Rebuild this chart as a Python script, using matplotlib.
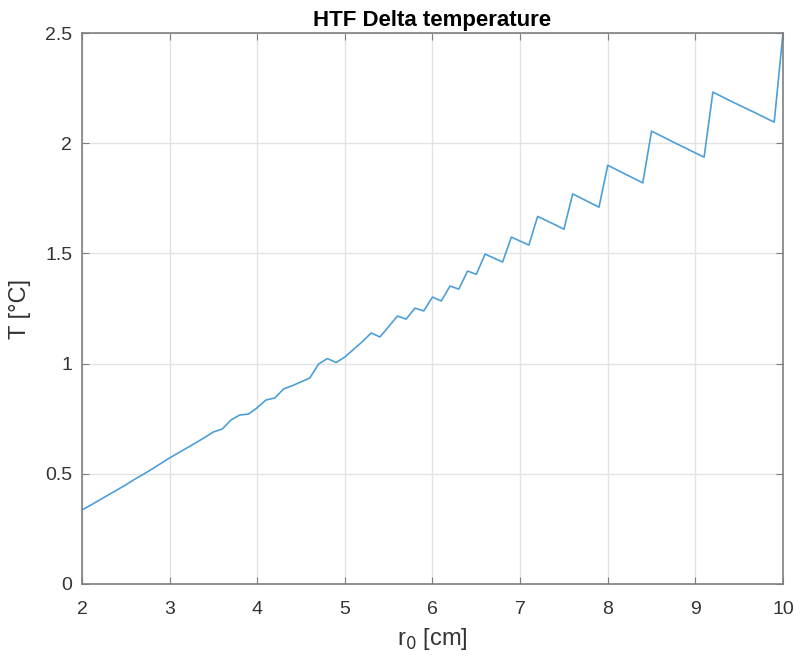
import matplotlib.pyplot as plt
import numpy as np

plt.rcParams['font.family'] = ['Liberation Sans', 'DejaVu Sans']

# r0 sampled every 0.1 cm from 2 to 10
r0 = np.round(np.arange(2.0, 10.0001, 0.1), 1)
dT = [0.336, 0.358, 0.381, 0.404, 0.427, 0.450, 0.475, 0.498, 0.522, 0.547,
      0.572, 0.595, 0.618, 0.641, 0.665, 0.690, 0.703, 0.744, 0.767, 0.771,
      0.800, 0.835, 0.844, 0.885, 0.900, 0.917, 0.935, 0.998, 1.023, 1.005,
      1.030, 1.065, 1.100, 1.139, 1.121, 1.168, 1.216, 1.202, 1.252, 1.239,
      1.302, 1.284, 1.352, 1.338, 1.420, 1.405, 1.497, 1.479, 1.461, 1.574,
      1.556, 1.538, 1.668, 1.649, 1.630, 1.610, 1.770, 1.750, 1.730, 1.710,
      1.900, 1.880, 1.860, 1.840, 1.820, 2.055, 2.035, 2.015, 1.995, 1.976,
      1.956, 1.937, 2.232, 2.212, 2.192, 2.173, 2.154, 2.135, 2.115, 2.096,
      2.500]

fig = plt.figure(figsize=(8.01, 6.61), dpi=100)
ax = fig.add_axes([0.1024, 0.1165, 0.8751, 0.8335])
ax.plot(r0, dT, color='#4d9fd8', lw=1.2)

ax.set_xlim(2, 10)
ax.set_ylim(0, 2.5)
ax.set_xticks(np.arange(2, 11, 1))
ax.set_yticks([0, 0.5, 1, 1.5, 2, 2.5])
ax.set_yticklabels(['0', '0.5', '1', '1.5', '2', '2.5'])
ax.grid(True, color='#e3e3e3', lw=1)
ax.set_axisbelow(True)
for s in ax.spines.values():
    s.set_color('#7f7f7f')
    s.set_linewidth(1.2)
ax.tick_params(direction='in', top=True, right=True, length=5, color='#7f7f7f',
               labelsize=14, labelcolor='#333333')
ax.tick_params(axis='x', pad=12)
ax.tick_params(axis='y', pad=7)

ax.set_title('HTF Delta temperature', fontsize=16, fontweight='bold', pad=5)
ax.set_xlabel('r$_0$ [cm]', fontsize=17, color='#333333', labelpad=6)
ax.set_ylabel('T [°C]', fontsize=17, color='#333333', labelpad=10)

fig.savefig('out.png', dpi=100)
